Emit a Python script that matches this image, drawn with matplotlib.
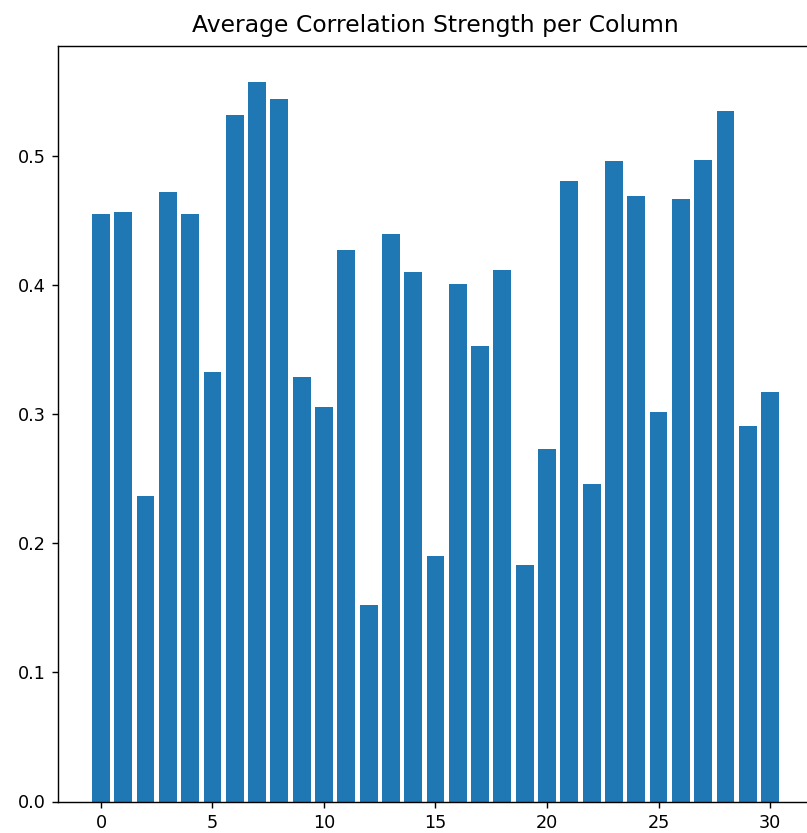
import numpy as np
import matplotlib
matplotlib.use("Agg")
import matplotlib.pyplot as plt

columns = list(range(31))
avg_corr = [0.455, 0.457, 0.237, 0.472, 0.455, 0.333, 0.532, 0.5575, 0.544,
            0.329, 0.306, 0.427, 0.152, 0.440, 0.410, 0.190, 0.401, 0.353,
            0.412, 0.183, 0.273, 0.481, 0.246, 0.496, 0.469, 0.302, 0.467,
            0.497, 0.535, 0.291, 0.317]

dpi = 127
fig = plt.figure(figsize=(807 / dpi, 833 / dpi), dpi=dpi)
# the original screenshot is cropped on the right, so the axes run past the edge
ax = fig.add_axes([57.7 / 807, 31.5 / 833, 755.6 / 807, 755.5 / 833])
ax.bar(columns, avg_corr, color="#1f77b4")
ax.set_title("Average Correlation Strength per Column", fontsize=13.3, pad=8)

fig.savefig("out.png", dpi=dpi)
